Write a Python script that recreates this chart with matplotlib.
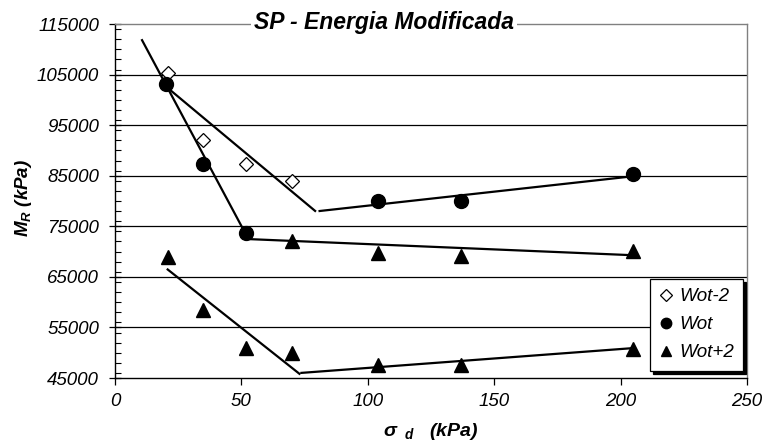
import matplotlib
matplotlib.use("Agg")
import matplotlib.pyplot as plt
from matplotlib.ticker import MultipleLocator

plt.rcParams['font.family'] = ['Liberation Sans', 'DejaVu Sans']
plt.rcParams['mathtext.fontset'] = 'custom'
plt.rcParams['mathtext.rm'] = 'Liberation Sans:bold:italic'
plt.rcParams['mathtext.it'] = 'Liberation Sans:bold:italic'
plt.rcParams['mathtext.bf'] = 'Liberation Sans:bold:italic'

# Measured points
sd_wot_m2 = [21, 35, 52, 70]
mr_wot_m2 = [105300, 92000, 87300, 83900]

sd_wot = [20, 35, 52, 104, 137, 205]
mr_wot = [103200, 87400, 73700, 80000, 80100, 85300]

sd_wot_p2 = [21, 35, 52, 70, 104, 137, 205, 70, 104, 137, 205]
mr_wot_p2 = [69000, 58500, 50900, 49900, 47500, 47500, 50700,
             72000, 69700, 69100, 70100]

# Fitted trend segments (start and end of each)
trend_segments = [
    ([10.5, 52.0], [112000, 73200]),
    ([21.0, 79.5], [102300, 77900]),
    ([80.5, 205.0], [78000, 84900]),
    ([51.5, 204.0], [72500, 69300]),
    ([20.5, 73.3], [66600, 45700]),
    ([73.3, 204.5], [46000, 50900]),
]

x_ticks = [0, 50, 100, 150, 200, 250]
y_ticks = [45000, 55000, 65000, 75000, 85000, 95000, 105000, 115000]

fig = plt.figure(figsize=(7.65, 4.44), dpi=100)
ax = fig.add_axes([0.1503, 0.1486, 0.8262, 0.7973])

ax.set_xlim(0, 250)
ax.set_ylim(45000, 115000)

for y in y_ticks[1:-1]:
    ax.axhline(y, color='black', lw=0.9, zorder=1)

for xs, ys in trend_segments:
    ax.plot(xs, ys, color='black', lw=1.6, zorder=2, solid_capstyle='butt')

ax.plot(sd_wot_m2, mr_wot_m2, ls='none', marker='D', ms=7.5, mfc='white',
        mec='black', mew=0.9, zorder=3, label='Wot-2')
ax.plot(sd_wot, mr_wot, ls='none', marker='o', ms=10, mfc='black',
        mec='black', zorder=3, label='Wot')
ax.plot(sd_wot_p2, mr_wot_p2, ls='none', marker='^', ms=10, mfc='black',
        mec='black', zorder=3, label='Wot+2')

ax.set_xticks(x_ticks)
ax.set_yticks(y_ticks)
ax.yaxis.set_minor_locator(MultipleLocator(2000))
ax.tick_params(axis='x', direction='out', length=5, width=0.9, colors='black',
               labelsize=13.5, pad=6)
ax.tick_params(axis='y', which='major', direction='inout', length=9, width=0.9,
               labelsize=13.5, pad=7)
ax.tick_params(axis='y', which='minor', direction='in', length=4, width=0.8)
for lab in ax.get_xticklabels() + ax.get_yticklabels():
    lab.set_fontstyle('italic')

ax.spines['left'].set_color('black')
ax.spines['bottom'].set_color('black')
ax.spines['left'].set_linewidth(1.0)
ax.spines['bottom'].set_linewidth(1.0)
ax.spines['top'].set_color('#808080')
ax.spines['right'].set_color('#808080')
ax.spines['top'].set_linewidth(1.0)
ax.spines['right'].set_linewidth(1.0)

ax.set_ylabel(r'$M_{R}$ (kPa)', fontsize=13.5, fontweight='bold',
              fontstyle='italic')
ax.yaxis.set_label_coords(-0.128, 0.51)
ax.set_xlabel(r'$\sigma_{\ \ d}$   (kPa)', fontsize=14, fontweight='bold',
              fontstyle='italic')
ax.xaxis.set_label_coords(0.5, -0.122)

ax.text(0.4256, 1.005, 'SP - Energia Modificada', transform=ax.transAxes,
        ha='center', va='center', fontsize=16.5, fontweight='bold',
        fontstyle='italic', zorder=10, clip_on=False,
        bbox=dict(facecolor='white', edgecolor='none', pad=2))

leg = ax.legend(loc='lower right', bbox_to_anchor=(0.994, 0.0206),
                borderaxespad=0, fancybox=False, framealpha=1,
                edgecolor='black', shadow={'color': 'black', 'alpha': 1},
                prop={'size': 13.5, 'style': 'italic'}, markerscale=0.75,
                handlelength=0.7, handletextpad=0.35, labelspacing=0.58,
                borderpad=0.5)
leg.get_frame().set_linewidth(0.9)

fig.savefig('out.png', dpi=100)
